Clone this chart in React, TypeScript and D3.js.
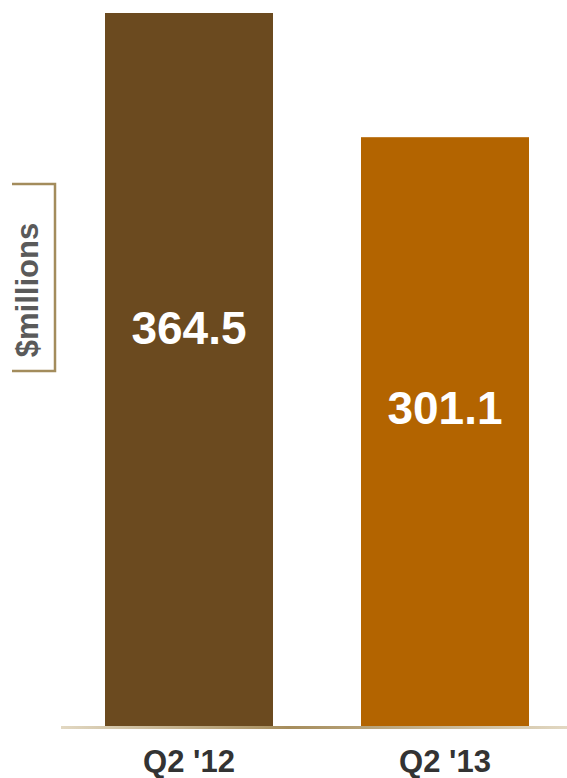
import React from "react";
import * as d3 from "d3";

const categories = ["Q2 '12", "Q2 '13"];
const values = [364.5, 301.1];
const valueLabels = ["364.5", "301.1"];
const colors = ["#6b4a1f", "#b36400"];
const axisTitle = "$millions";

export default function App() {
  const W = 567, H = 778;
  const baseline = 727;
  const x = d3.scaleBand<string>().domain(categories).range([105, 529]).paddingInner(0.34375).paddingOuter(0);
  const y = d3.scaleLinear().domain([0, 364.5]).range([baseline, 13]);
  const labelY = [328, 408];
  return (
    <svg width={W} height={H} style={{ position: "absolute", left: 0, top: 0, fontFamily: "Liberation Sans, Arial, sans-serif" }}>
      <defs>
        <linearGradient id="axg" x1="0" x2="1" y1="0" y2="0">
          <stop offset="0" stopColor="#e2d8c2" />
          <stop offset="0.45" stopColor="#a68d5c" />
          <stop offset="1" stopColor="#e2d8c2" />
        </linearGradient>
      </defs>
      {categories.map((c, i) => (
        <g key={c}>
          <rect x={x(c)} y={y(values[i])} width={x.bandwidth()} height={baseline - y(values[i])} fill={colors[i]} />
          <text x={(x(c) as number) + x.bandwidth() / 2} y={labelY[i]} textAnchor="middle" dominantBaseline="central"
            fill="#fff" fontWeight="bold" fontSize={46}>{valueLabels[i]}</text>
          <text x={(x(c) as number) + x.bandwidth() / 2} y={772} textAnchor="middle"
            fill="#333" fontWeight="bold" fontSize={31}>{c}</text>
        </g>
      ))}
      <rect x={61} y={baseline - 1} width={W - 61} height={3} fill="url(#axg)" />
      <path d="M12,184 H55 V371 H12" fill="none" stroke="#a38c5c" strokeWidth={2.5} />
      <text transform="translate(27,290) rotate(-90)" textAnchor="middle" dominantBaseline="central"
        fill="#5a5a5a" fontWeight="bold" fontSize={31}>{axisTitle}</text>
    </svg>
  );
}
